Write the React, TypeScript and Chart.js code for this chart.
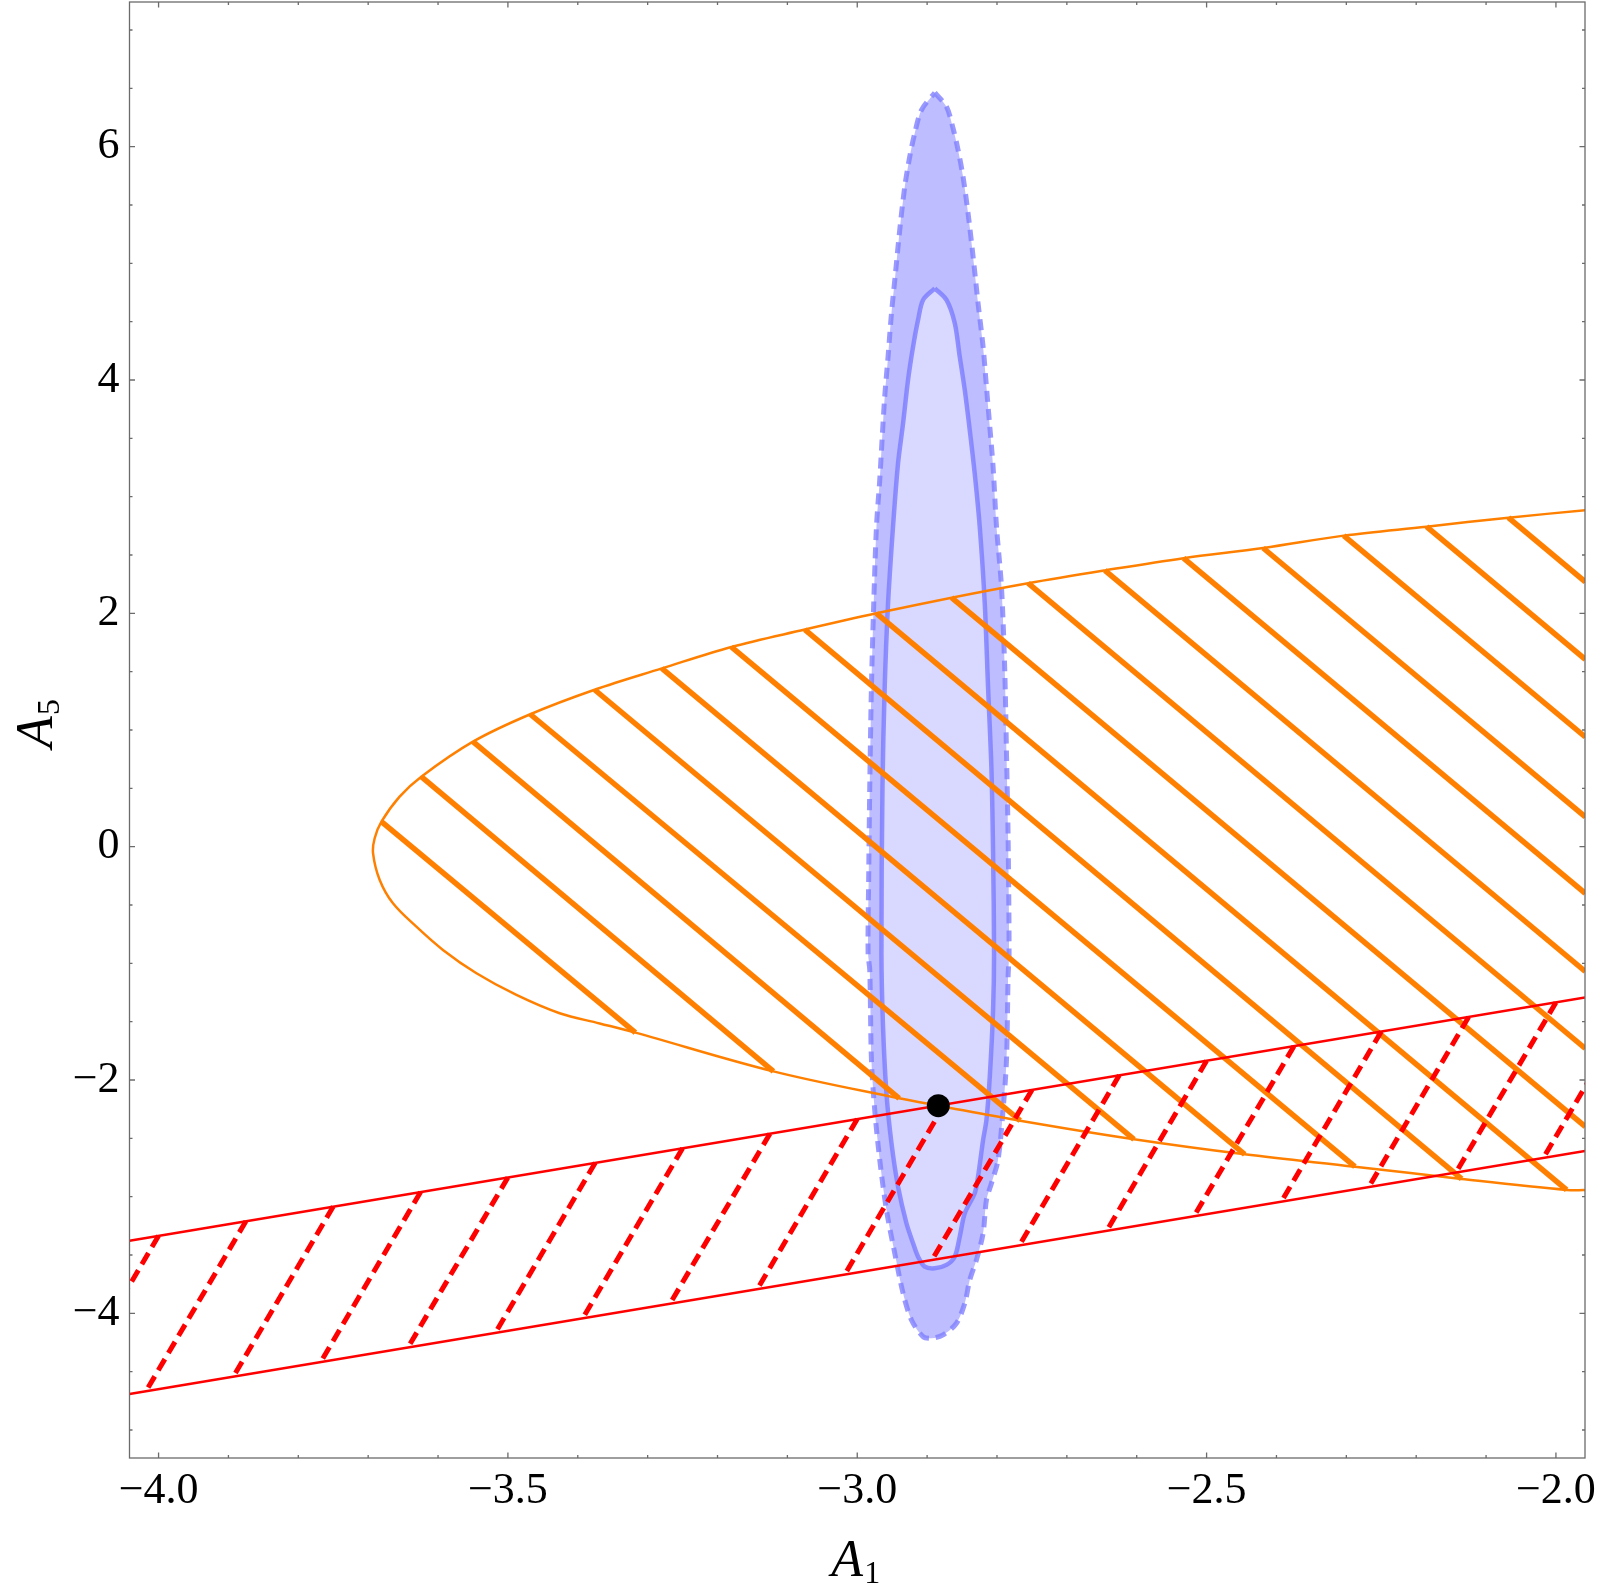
import React, { useEffect, useRef } from "react";
import { Chart, registerables } from "chart.js";
Chart.register(...registerables);

// ---- axes ----
const X_MIN = -4.0416;
const X_MAX = -1.9584;
const Y_MIN = -5.24;
const Y_MAX = 7.24;
const xTickValues = [-4, -3.5, -3, -2.5, -2];
const xTickLabels = ["\u22124.0", "\u22123.5", "\u22123.0", "\u22122.5", "\u22122.0"];
const yTickValues = [-4, -2, 0, 2, 4, 6];
const yTickLabels = ["\u22124", "\u22122", "0", "2", "4", "6"];
const xMinorTicks = [-3.9, -3.8, -3.7, -3.6, -3.4, -3.3, -3.2, -3.1, -2.9, -2.8, -2.7, -2.6, -2.4, -2.3, -2.2, -2.1];
const yMinorTicks = [-5, -4.5, -3.5, -3, -2.5, -1.5, -1, -0.5, 0.5, 1, 1.5, 2.5, 3, 3.5, 4.5, 5, 5.5, 6.5, 7];

// ---- blue confidence regions ----
const outerContour: number[][] = [
  [-2.889, 6.463], [-2.8723, 6.343], [-2.8629, 6.158], [-2.8557, 5.972], [-2.8486, 5.743],
  [-2.8414, 5.429], [-2.8342, 5.057], [-2.8271, 4.658], [-2.8199, 4.286], [-2.8151, 3.943],
  [-2.8103, 3.6], [-2.8056, 3.257], [-2.8007, 2.743], [-2.7936, 2.229], [-2.7889, 1.515],
  [-2.7864, 0.801], [-2.7841, 0.086], [-2.7827, -0.914], [-2.7841, -1.114], [-2.7864, -1.828],
  [-2.7913, -2.257], [-2.7985, -2.685], [-2.8079, -2.885], [-2.8151, -3.028], [-2.8199, -3.314],
  [-2.8294, -3.542], [-2.839, -3.714], [-2.8461, -3.914], [-2.858, -4.085], [-2.8772, -4.185],
  [-2.8938, -4.214], [-2.9058, -4.2], [-2.9224, -4.057], [-2.9344, -3.828], [-2.9463, -3.485],
  [-2.9582, -3.114], [-2.9678, -2.685], [-2.975, -2.257], [-2.9797, -1.828], [-2.9821, -1.057],
  [-2.9845, -0.914], [-2.9835, -0.2], [-2.9821, 0.514], [-2.9797, 1.371], [-2.9764, 2.086],
  [-2.9725, 2.743], [-2.9678, 3.143], [-2.9645, 3.486], [-2.9607, 3.857], [-2.9559, 4.2],
  [-2.951, 4.572], [-2.9453, 4.915], [-2.9392, 5.286], [-2.932, 5.657], [-2.9249, 5.914],
  [-2.9177, 6.115], [-2.9081, 6.314], [-2.889, 6.463],
];
const innerContour: number[][] = [
  [-2.889, 4.786], [-2.8723, 4.686], [-2.8604, 4.486], [-2.8533, 4.2], [-2.8461, 3.914],
  [-2.839, 3.572], [-2.8319, 3.2], [-2.8247, 2.743], [-2.8175, 2.086], [-2.8128, 1.371],
  [-2.8079, 0.657], [-2.8056, -0.057], [-2.8042, -0.914], [-2.8056, -1.4], [-2.8103, -1.971],
  [-2.8151, -2.343], [-2.8199, -2.514], [-2.8271, -2.828], [-2.8319, -2.971], [-2.8461, -3.142],
  [-2.8533, -3.343], [-2.8604, -3.514], [-2.8723, -3.585], [-2.8891, -3.614], [-2.9034, -3.6],
  [-2.913, -3.514], [-2.9201, -3.399], [-2.9296, -3.228], [-2.9416, -2.914], [-2.951, -2.542],
  [-2.9582, -2.114], [-2.9631, -1.543], [-2.9654, -0.914], [-2.9639, 0.514], [-2.9607, 1.371],
  [-2.9559, 2.086], [-2.9488, 2.743], [-2.9416, 3.286], [-2.9344, 3.629], [-2.9273, 4.0],
  [-2.9201, 4.286], [-2.913, 4.514], [-2.9058, 4.686], [-2.889, 4.786],
];

// ---- orange region ----
const orangeBoundary: number[][] = [
  [-1.958, 2.884], [-2.068, 2.82], [-2.1852, 2.743], [-2.3037, 2.666], [-2.4191, 2.56],
  [-2.533, 2.473], [-2.6456, 2.368], [-2.7555, 2.258], [-2.865, 2.134], [-2.9725, 2.0],
  [-3.075, 1.861], [-3.1802, 1.712], [-3.2796, 1.528], [-3.3759, 1.345], [-3.468, 1.135],
  [-3.55, 0.9], [-3.624, 0.6], [-3.655, 0.429], [-3.681, 0.214], [-3.6907, 0.072],
  [-3.693, -0.057], [-3.6835, -0.285], [-3.6645, -0.485], [-3.631, -0.686], [-3.593, -0.885],
  [-3.545, -1.085], [-3.4878, -1.271], [-3.4259, -1.428], [-3.3686, -1.515], [-3.3175, -1.594],
  [-3.12, -1.926], [-2.94, -2.157], [-2.884, -2.22], [-2.7668, -2.349], [-2.6039, -2.508],
  [-2.4455, -2.637], [-2.2877, -2.743], [-2.135, -2.848], [-1.9847, -2.942], [-1.958, -2.944],
];
// hatch segments: [xTop, yTop, xEnd, yEnd]
const orangeHatches: number[][] = [
  [-3.681, 0.214, -3.3175, -1.594],
  [-3.624, 0.6, -3.12, -1.926],
  [-3.55, 0.9, -2.94, -2.157],
  [-3.468, 1.135, -2.7668, -2.349],
  [-3.3759, 1.345, -2.6039, -2.508],
  [-3.2796, 1.528, -2.4455, -2.637],
  [-3.1802, 1.712, -2.2877, -2.743],
  [-3.075, 1.861, -2.135, -2.848],
  [-2.9725, 2.0, -1.9847, -2.942],
  [-2.865, 2.134, -1.958, -2.4],
  [-2.7555, 2.258, -1.958, -1.73],
  [-2.6456, 2.368, -1.958, -1.07],
  [-2.533, 2.473, -1.958, -0.4],
  [-2.4191, 2.56, -1.958, 0.255],
  [-2.3037, 2.666, -1.958, 0.94],
  [-2.1852, 2.743, -1.958, 1.605],
  [-2.068, 2.82, -1.958, 2.27],
];

// ---- red band ----
const redUpper: number[][] = [[-4.0416, -3.377], [-1.9584, -1.293]];
const redLower: number[][] = [[-4.0416, -4.691], [-1.9584, -2.608]];
const redHatches: number[][] = [
  [-4.0, -3.335, -4.143, -4.793],
  [-3.875, -3.21, -4.018, -4.668],
  [-3.75, -3.085, -3.893, -4.543],
  [-3.625, -2.96, -3.768, -4.418],
  [-3.5, -2.835, -3.643, -4.293],
  [-3.375, -2.71, -3.518, -4.168],
  [-3.25, -2.585, -3.393, -4.043],
  [-3.125, -2.46, -3.268, -3.918],
  [-3.0, -2.335, -3.143, -3.793],
  [-2.875, -2.21, -3.018, -3.668],
  [-2.75, -2.085, -2.893, -3.543],
  [-2.625, -1.96, -2.768, -3.418],
  [-2.5, -1.835, -2.643, -3.293],
  [-2.375, -1.71, -2.518, -3.168],
  [-2.25, -1.585, -2.393, -3.043],
  [-2.125, -1.46, -2.268, -2.918],
  [-2.0, -1.335, -2.143, -2.793],
  [-1.875, -1.21, -2.018, -2.668],
];

// ---- best fit point ----
const bestFit: number[][] = [[-2.884, -2.22]];

const FONT = "'Liberation Serif', 'Times New Roman', serif";

const toPts = (arr: number[][]) => arr.map((p) => ({ x: p[0], y: p[1] }));

function drawTitle(ctx: CanvasRenderingContext2D, main: string, sub: string, cx: number, cy: number, rotate: boolean) {
  ctx.save();
  ctx.translate(cx, cy);
  if (rotate) ctx.rotate(-Math.PI / 2);
  ctx.textBaseline = "alphabetic";
  ctx.textAlign = "left";
  ctx.fillStyle = "#000";
  const mainFont = "italic 52px " + FONT;
  const subFont = "32px " + FONT;
  ctx.font = mainFont;
  const w1 = ctx.measureText(main).width;
  ctx.font = subFont;
  const w2 = ctx.measureText(sub).width;
  const start = -(w1 + w2) / 2;
  ctx.font = mainFont;
  ctx.fillText(main, start, 0);
  ctx.font = subFont;
  ctx.fillText(sub, start + w1 + 1, 7);
  ctx.restore();
}

const framePlugin = {
  id: "mmaFrame",
  afterDatasetsDraw(chart: any) {
    const { ctx, chartArea: a, scales } = chart;
    const xs = scales.x;
    const ys = scales.y;
    ctx.save();
    ctx.strokeStyle = "#6b6b6b";
    ctx.lineWidth = 1.3;
    ctx.strokeRect(a.left, a.top, a.right - a.left, a.bottom - a.top);
    ctx.beginPath();
    const major = 5.5;
    const minor = 3;
    const xt = (v: number, len: number) => {
      const p = xs.getPixelForValue(v);
      ctx.moveTo(p, a.bottom);
      ctx.lineTo(p, a.bottom - len);
      ctx.moveTo(p, a.top);
      ctx.lineTo(p, a.top + len);
    };
    const yt = (v: number, len: number) => {
      const p = ys.getPixelForValue(v);
      ctx.moveTo(a.left, p);
      ctx.lineTo(a.left + len, p);
      ctx.moveTo(a.right, p);
      ctx.lineTo(a.right - len, p);
    };
    xTickValues.forEach((v) => xt(v, major));
    xMinorTicks.forEach((v) => xt(v, minor));
    yTickValues.forEach((v) => yt(v, major));
    yMinorTicks.forEach((v) => yt(v, minor));
    ctx.stroke();
    ctx.restore();
    drawTitle(ctx, "A", "1", (a.left + a.right) / 2 - 2, 1576, false);
    drawTitle(ctx, "A", "5", 52, (a.top + a.bottom) / 2 - 6, true);
  },
};

export default function App() {
  const ref = useRef<HTMLCanvasElement>(null);
  useEffect(() => {
    const datasets: any[] = [];
    const base = { pointRadius: 0, pointHoverRadius: 0, tension: 0, clip: 0, fill: false };

    datasets.push({
      ...base,
      data: toPts(bestFit),
      showLine: false,
      pointRadius: 11.5,
      pointBackgroundColor: "#000",
      pointBorderColor: "#000",
      pointBorderWidth: 0,
      order: 0,
      clip: false,
    });
    datasets.push({ ...base, data: toPts(redUpper), borderColor: "#ff0000", borderWidth: 2.5, order: 1 });
    datasets.push({ ...base, data: toPts(redLower), borderColor: "#ff0000", borderWidth: 2.5, order: 1 });
    redHatches.forEach((h) => {
      datasets.push({
        ...base,
        data: [{ x: h[0], y: h[1] }, { x: h[2], y: h[3] }],
        borderColor: "#ff0000",
        borderWidth: 5,
        borderDash: [13, 7],
        borderCapStyle: "butt",
        order: 2,
      });
    });
    datasets.push({
      ...base,
      data: toPts(orangeBoundary),
      borderColor: "#ff8000",
      borderWidth: 2.5,
      tension: 0.35,
      order: 3,
    });
    orangeHatches.forEach((h) => {
      datasets.push({
        ...base,
        data: [{ x: h[0], y: h[1] }, { x: h[2], y: h[3] }],
        borderColor: "#ff8000",
        borderWidth: 5.5,
        order: 4,
      });
    });
    datasets.push({
      ...base,
      data: toPts(innerContour),
      borderColor: "rgba(128,128,255,0.85)",
      backgroundColor: "#d9d9ff",
      borderWidth: 4.5,
      tension: 0.3,
      fill: "shape",
      order: 5,
    });
    datasets.push({
      ...base,
      data: toPts(outerContour),
      borderColor: "rgba(128,128,255,0.8)",
      backgroundColor: "#bdbdff",
      borderWidth: 5,
      borderDash: [11, 7],
      tension: 0.3,
      fill: "shape",
      order: 6,
    });

    const chart = new Chart(ref.current as HTMLCanvasElement, {
      type: "line",
      data: { datasets },
      options: {
        animation: false,
        responsive: false,
        maintainAspectRatio: false,
        devicePixelRatio: 1,
        layout: { autoPadding: false, padding: { left: 0, right: 15, top: 2, bottom: 0 } },
        plugins: { legend: { display: false }, title: { display: false }, tooltip: { enabled: false } },
        events: [],
        scales: {
          x: {
            type: "linear",
            min: X_MIN,
            max: X_MAX,
            afterBuildTicks: (s: any) => {
              s.ticks = xTickValues.map((v) => ({ value: v }));
            },
            afterFit: (s: any) => {
              s.height = 129;
              s.paddingLeft = 0;
              s.paddingRight = 0;
            },
            ticks: {
              autoSkip: false,
              maxRotation: 0,
              minRotation: 0,
              padding: 7,
              color: "#000",
              font: { family: FONT, size: 44 },
              callback: (v: any) => xTickLabels[xTickValues.indexOf(Number(v))] ?? "",
            },
            grid: { display: false, drawTicks: false },
            border: { display: false },
          },
          y: {
            type: "linear",
            min: Y_MIN,
            max: Y_MAX,
            afterBuildTicks: (s: any) => {
              s.ticks = yTickValues.map((v) => ({ value: v }));
            },
            afterFit: (s: any) => {
              s.width = 129.5;
              s.paddingTop = 0;
              s.paddingBottom = 0;
            },
            ticks: {
              autoSkip: false,
              padding: 10,
              color: "#000",
              font: { family: FONT, size: 44 },
              callback: (v: any) => yTickLabels[yTickValues.indexOf(Number(v))] ?? "",
            },
            grid: { display: false, drawTicks: false },
            border: { display: false },
          },
        },
      } as any,
      plugins: [framePlugin],
    });
    return () => chart.destroy();
  }, []);

  return (
    <div style={{ position: "fixed", left: 0, top: 0, width: 1600, height: 1587, background: "#fff" }}>
      <canvas ref={ref} width={1600} height={1587} style={{ width: 1600, height: 1587, display: "block" }} />
    </div>
  );
}
